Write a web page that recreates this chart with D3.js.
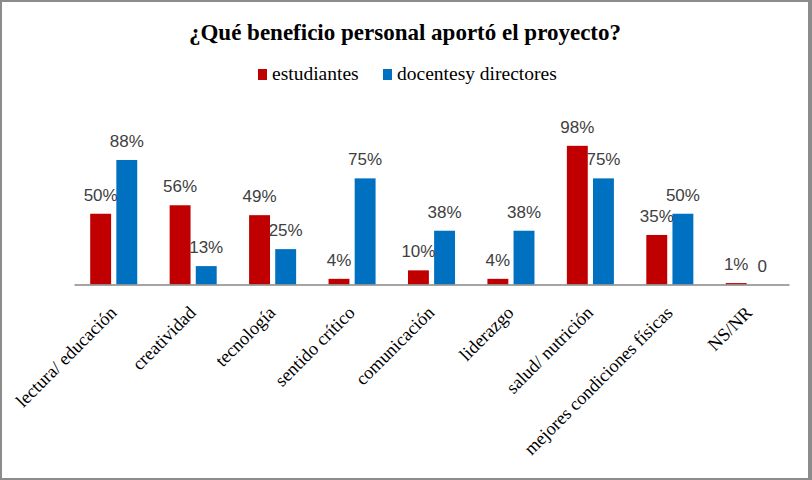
<!DOCTYPE html>
<html>
<head>
<meta charset="utf-8">
<script src="https://cdn.jsdelivr.net/npm/d3@7"></script>
<style>
  body { margin: 0; background: #fff; }
</style>
</head>
<body>
<div id="chart"></div>
<script>
// datos del gráfico
var categorias = ['lectura/ educación', 'creatividad', 'tecnología', 'sentido crítico',
    'comunicación', 'liderazgo', 'salud/ nutrición', 'mejores condiciones físicas', 'NS/NR'];
var series = ['estudiantes', 'docentesy directores'];
var estudiantes = [50, 56, 49, 4, 10, 4, 98, 35, 1];
var docentes = [88, 13, 25, 75, 38, 38, 75, 50, 0];
var etiquetasDocentes = ['88%', '13%', '25%', '75%', '38%', '38%', '75%', '50%', '0'];
var etiquetasEstudiantes = ['50%', '56%', '49%', '4%', '10%', '4%', '98%', '35%', '1%'];

var colors = ['#c00000', '#0070c0'];

var width = 812, height = 480;
var svg = d3.select('#chart')
            .append('svg')
            .attr('width', width)
            .attr('height', height);

// marco
svg.append('rect').attr('x', 0).attr('y', 0).attr('width', width).attr('height', height)
    .style('fill', '#8c8c8c');
svg.append('rect').attr('x', 2).attr('y', 2).attr('width', 806).attr('height', 476)
    .style('fill', '#fff');

// título
svg.append('text')
    .attr('x', 405).attr('y', 40)
    .attr('text-anchor', 'middle')
    .style('font-family', '"Liberation Serif", "Times New Roman", serif')
    .style('font-weight', 'bold')
    .style('font-size', '23px')
    .text('¿Qué beneficio personal aportó el proyecto?');

// leyenda
var leyendaX = [258, 383];
var leyenda = svg.append('g');
series.forEach(function(s, i) {
    leyenda.append('rect')
        .attr('x', leyendaX[i]).attr('y', 69)
        .attr('width', 9).attr('height', 11)
        .style('fill', colors[i]);
    leyenda.append('text')
        .attr('x', leyendaX[i] + 14).attr('y', 80)
        .style('font-family', '"Liberation Serif", "Times New Roman", serif')
        .style('font-size', '19.5px')
        .text(s);
});

// escalas
var x0 = d3.scaleBand().domain(categorias).range([74, 789]);
var x1 = d3.scaleBand().domain(series).range([16.2, x0.bandwidth() - 16.2]).paddingInner(0.2);
var y = d3.scaleLinear().domain([0, 100]).range([284.5, 143]);

var datos = categorias.map(function(c, i) {
    return {
        cat: c,
        vals: [
            { s: series[0], v: estudiantes[i], label: etiquetasEstudiantes[i], color: colors[0] },
            { s: series[1], v: docentes[i], label: etiquetasDocentes[i], color: colors[1] }
        ]
    };
});

var grupos = svg.append('g')
    .selectAll('g')
    .data(datos)
    .enter()
    .append('g')
    .attr('transform', function(d) { return 'translate(' + x0(d.cat) + ',0)'; });

grupos.selectAll('rect')
    .data(function(d) { return d.vals; })
    .enter()
    .append('rect')
    .attr('x', function(d) { return x1(d.s); })
    .attr('y', function(d) { return y(d.v); })
    .attr('width', x1.bandwidth())
    .attr('height', function(d) { return y(0) - y(d.v); })
    .style('fill', function(d) { return d.color; });

grupos.selectAll('text')
    .data(function(d) { return d.vals; })
    .enter()
    .append('text')
    .attr('x', function(d) { return x1(d.s) + x1.bandwidth() / 2; })
    .attr('y', function(d) { return y(d.v) - 13; })
    .attr('text-anchor', 'middle')
    .style('font-family', '"Liberation Sans", Arial, sans-serif')
    .style('font-size', '17px')
    .style('fill', '#404040')
    .text(function(d) { return d.label; });

// eje x
var ejeX = svg.append('g')
    .attr('transform', 'translate(0,284.5)')
    .call(d3.axisBottom(x0).tickSize(0).tickPadding(0));
ejeX.select('.domain').attr('stroke', '#868686').attr('stroke-width', 1.5);
ejeX.selectAll('.tick text')
    .attr('x', -18)
    .attr('y', 23.5)
    .attr('dy', 0)
    .attr('transform', 'rotate(-45)')
    .attr('text-anchor', 'end')
    .style('font-family', '"Liberation Serif", "Times New Roman", serif')
    .style('font-size', '18.3px')
    .style('fill', '#000');
</script>
</body>
</html>
